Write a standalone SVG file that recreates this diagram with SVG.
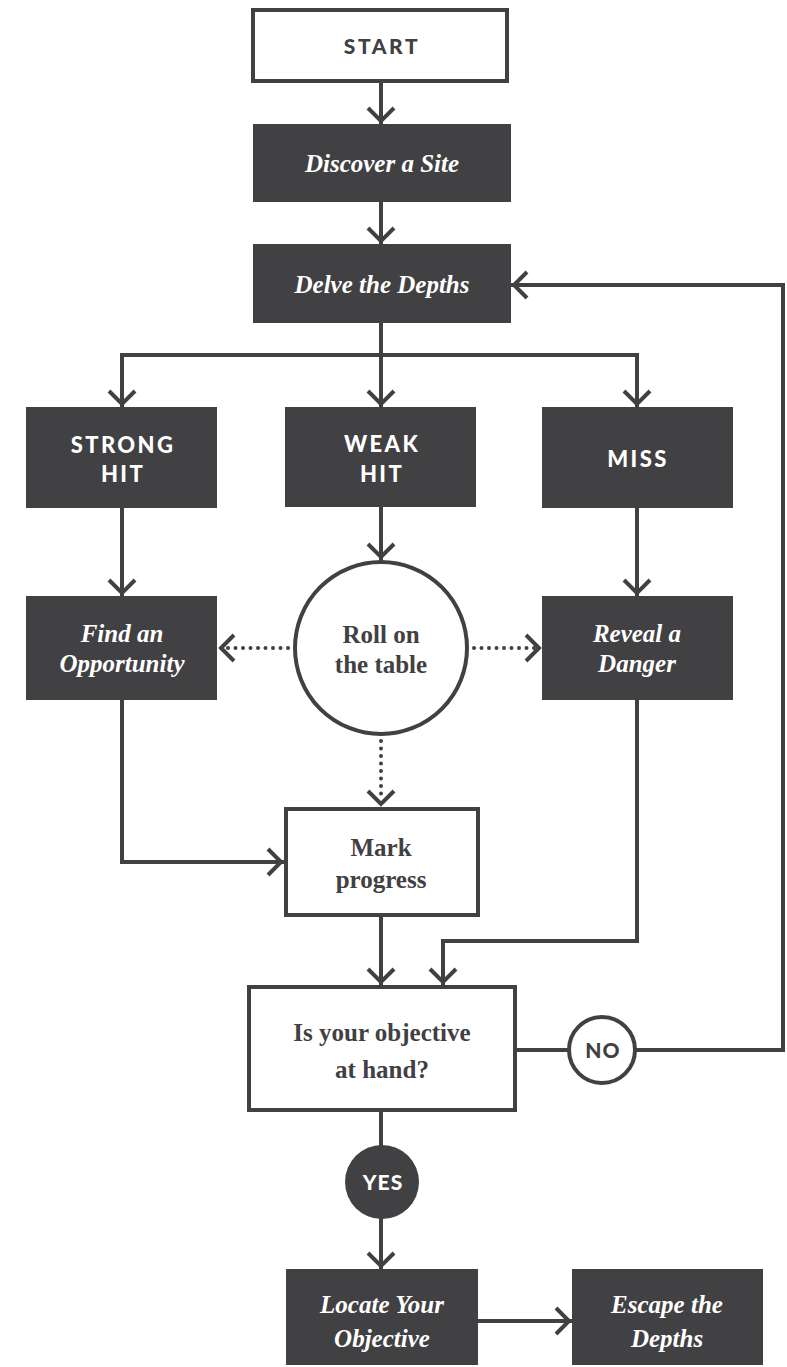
<svg xmlns="http://www.w3.org/2000/svg" width="787" height="1367" viewBox="0 0 787 1367">
<style>
.dark{fill:#414042}
.out{fill:#ffffff;stroke:#414042;stroke-width:4}
.ln{fill:none;stroke:#414042;stroke-width:4}
.dot{fill:none;stroke:#414042;stroke-width:4;stroke-linecap:round;stroke-dasharray:0 7.5}
.it{font-family:"Liberation Serif",serif;font-style:italic;font-weight:bold;font-size:25px;fill:#ffffff;text-anchor:middle}
.sb{font-family:"Liberation Serif",serif;font-weight:bold;font-size:25px;fill:#414042;text-anchor:middle}
.hd{font-family:Lato,"Liberation Sans",sans-serif;font-weight:900;font-size:22px;letter-spacing:2.4px;fill:#ffffff;text-anchor:middle}
.hdd{font-family:Lato,"Liberation Sans",sans-serif;font-weight:900;font-size:21px;letter-spacing:2.6px;fill:#414042;text-anchor:middle}
</style>
<defs>
<marker id="ah" markerUnits="userSpaceOnUse" viewBox="-20 -18 24 36" refX="0" refY="0" markerWidth="24" markerHeight="36" orient="auto" overflow="visible">
<path d="M-16,-13 L-3,0 L-16,13" fill="none" stroke="#414042" stroke-width="4"/>
</marker>
</defs>
<rect width="787" height="1367" fill="#ffffff"/>

<g id="connectors">
<path class="ln" d="M381,83 V124" marker-end="url(#ah)"/>
<path class="ln" d="M381,202 V244" marker-end="url(#ah)"/>
<path class="ln" d="M381,323 V355"/>
<path class="ln" d="M122,355 H637"/>
<path class="ln" d="M122,353 V407" marker-end="url(#ah)"/>
<path class="ln" d="M381,355 V407" marker-end="url(#ah)"/>
<path class="ln" d="M637,353 V407" marker-end="url(#ah)"/>
<path class="ln" d="M122,508 V596" marker-end="url(#ah)"/>
<path class="ln" d="M381,507 V560" marker-end="url(#ah)"/>
<path class="ln" d="M637,508 V596" marker-end="url(#ah)"/>
<path class="dot" d="M288,648 H226"/>
<path class="ln" d="M232,648 H218" stroke-opacity="0" marker-end="url(#ah)"/>
<path class="dot" d="M474,648 H536"/>
<path class="ln" d="M530,648 H542" stroke-opacity="0" marker-end="url(#ah)"/>
<path class="dot" d="M381,741 V800"/>
<path class="ln" d="M381,795 V807" stroke-opacity="0" marker-end="url(#ah)"/>
<path class="ln" d="M122,700 V862 H284" marker-end="url(#ah)"/>
<path class="ln" d="M381,917 V985" marker-end="url(#ah)"/>
<path class="ln" d="M637,700 V941 H443 V985" marker-end="url(#ah)"/>
<path class="ln" d="M517,1050 H568"/>
<path class="ln" d="M636,1050 H783 V285 H511" marker-end="url(#ah)"/>
<path class="ln" d="M381,1112 V1150"/>
<path class="ln" d="M381,1215 V1269" marker-end="url(#ah)"/>
<path class="ln" d="M478,1321 H572" marker-end="url(#ah)"/>
</g>

<g id="start">
<rect class="out" x="253" y="10" width="254" height="71"/>
<text class="hdd" x="382" y="54">START</text>
</g>
<g id="discover">
<rect class="dark" x="253" y="124" width="258" height="78"/>
<text class="it" x="382" y="172">Discover a Site</text>
</g>
<g id="delve">
<rect class="dark" x="253" y="244" width="258" height="79"/>
<text class="it" x="382" y="293">Delve the Depths</text>
</g>
<g id="strong-hit">
<rect class="dark" x="26" y="407" width="191" height="101"/>
<text class="hd" x="123" y="453">STRONG</text>
<text class="hd" x="123" y="482">HIT</text>
</g>
<g id="weak-hit">
<rect class="dark" x="285" y="407" width="191" height="100"/>
<text class="hd" x="382" y="452">WEAK</text>
<text class="hd" x="382" y="482">HIT</text>
</g>
<g id="miss">
<rect class="dark" x="542" y="407" width="191" height="101"/>
<text class="hd" x="638" y="467">MISS</text>
</g>
<g id="opportunity">
<rect class="dark" x="26" y="596" width="191" height="104"/>
<text class="it" x="122" y="642">Find an</text>
<text class="it" x="122" y="672">Opportunity</text>
</g>
<g id="roll">
<circle cx="381" cy="648" r="86" fill="#ffffff" stroke="#414042" stroke-width="4"/>
<text class="sb" x="381" y="643">Roll on</text>
<text class="sb" x="381" y="673">the table</text>
</g>
<g id="danger">
<rect class="dark" x="542" y="596" width="191" height="104"/>
<text class="it" x="637" y="642">Reveal a</text>
<text class="it" x="637" y="672">Danger</text>
</g>
<g id="mark">
<rect class="out" x="286" y="809" width="192" height="106"/>
<text class="sb" x="381" y="856">Mark</text>
<text class="sb" x="381" y="888">progress</text>
</g>
<g id="objective">
<rect class="out" x="249" y="987" width="266" height="123"/>
<text class="sb" x="382" y="1041">Is your objective</text>
<text class="sb" x="382" y="1078">at hand?</text>
</g>
<g id="no">
<circle cx="602" cy="1050" r="33" fill="#ffffff" stroke="#414042" stroke-width="4"/>
<text class="hdd" x="603" y="1058" style="font-size:21px;letter-spacing:1px">NO</text>
</g>
<g id="yes">
<circle cx="382" cy="1182" r="37" class="dark"/>
<text class="hd" x="383" y="1190" style="font-size:21px;letter-spacing:1px">YES</text>
</g>
<g id="locate">
<rect class="dark" x="286" y="1269" width="192" height="96"/>
<text class="it" x="382" y="1313">Locate Your</text>
<text class="it" x="382" y="1347">Objective</text>
</g>
<g id="escape">
<rect class="dark" x="572" y="1269" width="191" height="96"/>
<text class="it" x="667" y="1313">Escape the</text>
<text class="it" x="667" y="1347">Depths</text>
</g>
</svg>
